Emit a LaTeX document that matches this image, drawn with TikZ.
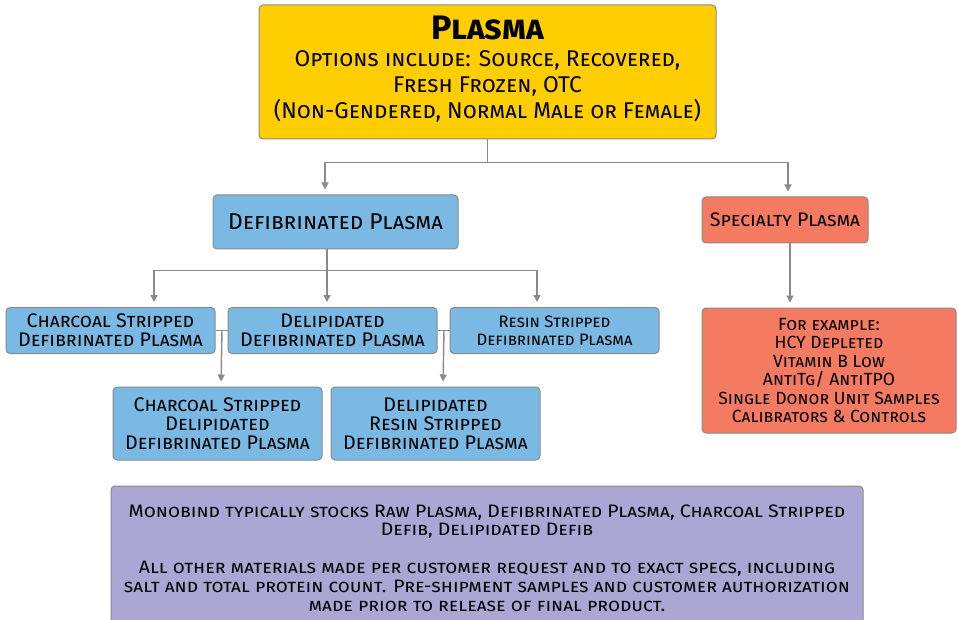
\documentclass[tikz,border=0pt]{standalone}
\usepackage{fontspec}
\setmainfont{Fira Sans}
\newfontfamily\condfont{Fira Sans}[FakeStretch=1.08]
\usetikzlibrary{arrows.meta}
\definecolor{plasmayellow}{HTML}{FFCE00}
\definecolor{defibblue}{HTML}{7AB9E3}
\definecolor{specialsalmon}{HTML}{F47B61}
\definecolor{notepurple}{HTML}{ABA6D3}
\definecolor{edgegray}{HTML}{8A8A8A}
\begin{document}
\begin{tikzpicture}[x=1pt, y=-1pt,
        box/.style={draw=edgegray, line width=1pt, rounded corners=4pt, align=center, inner sep=0pt},
        conn/.style={draw=edgegray, line width=1.4pt},
        arrow/.style={conn, -{Triangle[width=7pt,length=7pt]}, shorten >=5pt}]
    \useasboundingbox (0,0) rectangle (958,620);
    % Source plasma
    \node[box, fill=plasmayellow, minimum width=457, minimum height=134,
          font=\fontsize{22.8}{26}\selectfont\scshape] (plasma) at (487.5,72)
          {{\fontsize{34}{34}\selectfont\bfseries Plasma}\\[1pt]
           Options include: Source, Recovered,\\Fresh Frozen, OTC\\(Non-Gendered, Normal Male or Female)\\[-17pt]{}};
    % First level
    \node[box, fill=defibblue, minimum width=245, minimum height=54,
          font=\fontsize{22.9}{24}\selectfont\scshape] (defib) at (335.5,222) {Defibrinated Plasma};
    \node[box, fill=specialsalmon, minimum width=166, minimum height=46,
          font=\fontsize{19.6}{20}\selectfont\scshape] (special) at (785,220) {Specialty Plasma};
    % Second level
    \node[box, fill=defibblue, minimum width=209, minimum height=46,
          font=\fontsize{19.7}{19}\selectfont\scshape] (charcoal) at (110.5,330.5) {Charcoal Stripped\\Defibrinated Plasma};
    \node[box, fill=defibblue, minimum width=209, minimum height=46,
          font=\fontsize{19.7}{19}\selectfont\scshape] (delip) at (332.5,330.5) {Delipidated\\Defibrinated Plasma};
    \node[box, fill=defibblue, minimum width=209, minimum height=46,
          font=\fontsize{16.6}{18}\selectfont\scshape] (resin) at (554.5,330.5) {Resin Stripped\\Defibrinated Plasma};
    % Third level
    \node[box, fill=defibblue, minimum width=209, minimum height=73,
          font=\fontsize{19.7}{19}\selectfont\scshape] (chardelip) at (217.5,423.5) {Charcoal Stripped\\Delipidated\\Defibrinated Plasma};
    \node[box, fill=defibblue, minimum width=209, minimum height=73,
          font=\fontsize{19.7}{19}\selectfont\scshape] (delipresin) at (435.5,423.5) {Delipidated\\Resin Stripped\\Defibrinated Plasma};
    % Specialty examples
    \node[box, fill=specialsalmon, minimum width=254, minimum height=125,
          font=\fontsize{17.6}{18.5}\selectfont\scshape] (examples) at (829,370.5)
          {For example:\\HCY Depleted\\Vitamin B Low\\AntiTg/ AntiTPO\\Single Donor Unit Samples\\Calibrators \& Controls};
    % Stock note
    \node[box, fill=notepurple, minimum width=752, minimum height=144,
          font=\condfont\fontsize{18}{18.6}\selectfont\scshape] (note) at (487,558)
          {Monobind typically stocks Raw Plasma, Defibrinated Plasma, Charcoal Stripped\\Defib, Delipidated Defib\\[19.5pt]
           All other materials made per customer request and to exact specs, including\\salt and total protein count. Pre-shipment samples and customer authorization\\made prior to release of final product.};
    % Connectors
    \draw[arrow] (plasma.south) -- ++(0,23) -| ([xshift=-10.5pt]defib.north);
    \draw[arrow] (plasma.south) -- ++(0,23) -| ([xshift=3pt]special.north);
    \foreach \target/\shift in {charcoal/43.5, delip/-5.5, resin/-17.5} {
        \draw[arrow] ([xshift=-8.5pt]defib.south) -- ++(0,21) -| ([xshift=\shift pt]\target.north);
    }
    \draw[conn] (charcoal.east) -- (delip.west);
    \draw[arrow] (charcoal.east) ++(6.5,0) -- ([xshift=3.5pt]chardelip.north);
    \draw[conn] (delip.east) -- (resin.west);
    \draw[arrow] (delip.east) ++(6.5,0) -- ([xshift=7.5pt]delipresin.north);
    \draw[arrow] ([xshift=5pt]special.south) -- ([xshift=-39pt]examples.north);
\end{tikzpicture}
\end{document}
